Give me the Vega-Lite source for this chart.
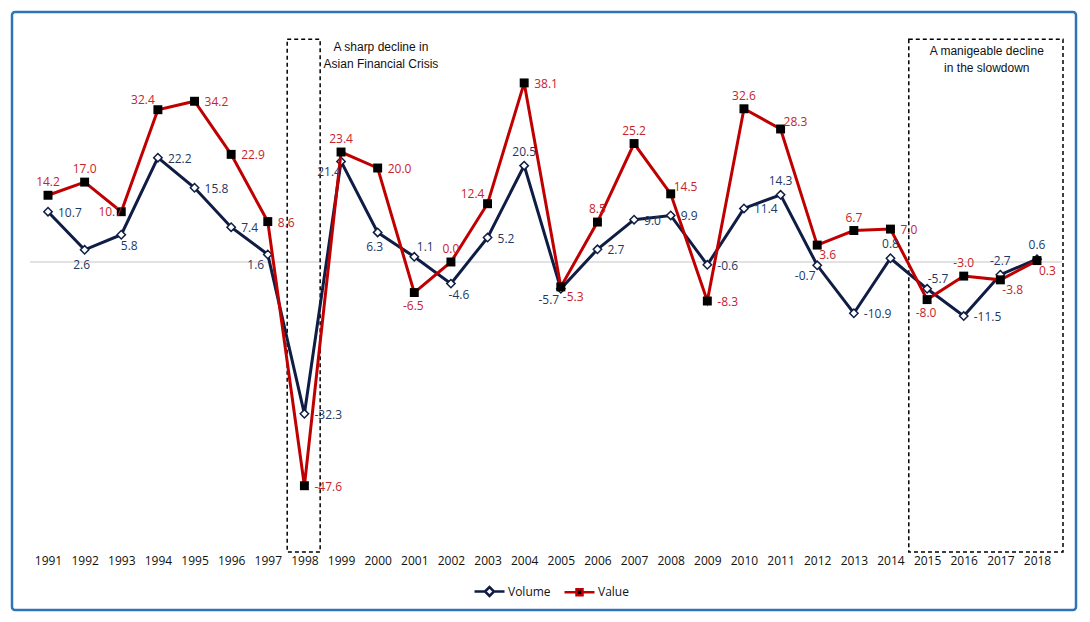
{
  "$schema": "https://vega.github.io/schema/vega-lite/v6.json",
  "width": 1064,
  "height": 598,
  "autosize": "none",
  "padding": {"left": 12, "top": 12, "right": 14, "bottom": 12},
  "background": "white",
  "config": {
    "view": {"stroke": "#2E75B6", "strokeWidth": 2.5, "cornerRadius": 3},
    "locale": {"number": {"decimal": ".", "thousands": ",", "grouping": [3], "currency": ["$", ""], "minus": "-"}}
  },
  "datasets": {
    "trade": [
      {"year": 1991, "series": "Volume", "pct": 10.7}, {"year": 1992, "series": "Volume", "pct": 2.6},
      {"year": 1993, "series": "Volume", "pct": 5.8}, {"year": 1994, "series": "Volume", "pct": 22.2},
      {"year": 1995, "series": "Volume", "pct": 15.8}, {"year": 1996, "series": "Volume", "pct": 7.4},
      {"year": 1997, "series": "Volume", "pct": 1.6}, {"year": 1998, "series": "Volume", "pct": -32.3},
      {"year": 1999, "series": "Volume", "pct": 21.4}, {"year": 2000, "series": "Volume", "pct": 6.3},
      {"year": 2001, "series": "Volume", "pct": 1.1}, {"year": 2002, "series": "Volume", "pct": -4.6},
      {"year": 2003, "series": "Volume", "pct": 5.2}, {"year": 2004, "series": "Volume", "pct": 20.5},
      {"year": 2005, "series": "Volume", "pct": -5.7}, {"year": 2006, "series": "Volume", "pct": 2.7},
      {"year": 2007, "series": "Volume", "pct": 9.0}, {"year": 2008, "series": "Volume", "pct": 9.9},
      {"year": 2009, "series": "Volume", "pct": -0.6}, {"year": 2010, "series": "Volume", "pct": 11.4},
      {"year": 2011, "series": "Volume", "pct": 14.3}, {"year": 2012, "series": "Volume", "pct": -0.7},
      {"year": 2013, "series": "Volume", "pct": -10.9}, {"year": 2014, "series": "Volume", "pct": 0.8},
      {"year": 2015, "series": "Volume", "pct": -5.7}, {"year": 2016, "series": "Volume", "pct": -11.5},
      {"year": 2017, "series": "Volume", "pct": -2.7}, {"year": 2018, "series": "Volume", "pct": 0.6},
      {"year": 1991, "series": "Value", "pct": 14.2}, {"year": 1992, "series": "Value", "pct": 17.0},
      {"year": 1993, "series": "Value", "pct": 10.7}, {"year": 1994, "series": "Value", "pct": 32.4},
      {"year": 1995, "series": "Value", "pct": 34.2}, {"year": 1996, "series": "Value", "pct": 22.9},
      {"year": 1997, "series": "Value", "pct": 8.6}, {"year": 1998, "series": "Value", "pct": -47.6},
      {"year": 1999, "series": "Value", "pct": 23.4}, {"year": 2000, "series": "Value", "pct": 20.0},
      {"year": 2001, "series": "Value", "pct": -6.5}, {"year": 2002, "series": "Value", "pct": 0.0},
      {"year": 2003, "series": "Value", "pct": 12.4}, {"year": 2004, "series": "Value", "pct": 38.1},
      {"year": 2005, "series": "Value", "pct": -5.3}, {"year": 2006, "series": "Value", "pct": 8.5},
      {"year": 2007, "series": "Value", "pct": 25.2}, {"year": 2008, "series": "Value", "pct": 14.5},
      {"year": 2009, "series": "Value", "pct": -8.3}, {"year": 2010, "series": "Value", "pct": 32.6},
      {"year": 2011, "series": "Value", "pct": 28.3}, {"year": 2012, "series": "Value", "pct": 3.6},
      {"year": 2013, "series": "Value", "pct": 6.7}, {"year": 2014, "series": "Value", "pct": 7.0},
      {"year": 2015, "series": "Value", "pct": -8.0}, {"year": 2016, "series": "Value", "pct": -3.0},
      {"year": 2017, "series": "Value", "pct": -3.8}, {"year": 2018, "series": "Value", "pct": 0.3}
    ],
    "boxes": [
      {"year": 1997.53, "year2": 1998.43, "pct": 47.4, "pct2": -61.7},
      {"year": 2014.5, "year2": 2018.71, "pct": 47.4, "pct2": -61.7}
    ],
    "notes": [
      {"note": ["A sharp decline in", "Asian Financial Crisis"], "year": 2000.09, "pct": 46.8},
      {"note": ["A manigeable decline", "in the slowdown"], "year": 2016.63, "pct": 46.0}
    ],
    "zero": [
      {"year": 1990.51, "year2": 2018.68, "pct": 0}
    ]
  },
  "encoding": {
    "x": {"field": "year", "type": "quantitative",
      "scale": {"domain": [1990.017, 2019.065], "nice": false, "zero": false},
      "axis": {"values": [1991,1992,1993,1994,1995,1996,1997,1998,1999,2000,2001,2002,2003,2004,2005,2006,2007,2008,2009,2010,2011,2012,2013,2014,2015,2016,2017,2018],
        "format": "d", "title": null, "domain": false, "ticks": false, "tickSize": 0, "grid": false,
        "offset": -57, "labelPadding": 2, "labelFont": "Open Sans", "labelFontSize": 12, "labelColor": "#111111", "labelFlush": false, "labelOverlap": false}},
    "y": {"field": "pct", "type": "quantitative",
      "scale": {"domain": [-74.04, 53.19], "nice": false, "zero": false}, "axis": null}
  },
  "layer": [
    {"data": {"name": "zero"}, "mark": {"type": "rule", "color": "#D9D9D9", "strokeWidth": 1.5},
      "encoding": {"x2": {"field": "year2"}}},
    {"data": {"name": "boxes"}, "mark": {"type": "rect", "fill": "transparent", "stroke": "#000000", "strokeWidth": 1.5, "strokeDash": [4, 3]},
      "encoding": {"x2": {"field": "year2"}, "y2": {"field": "pct2"}}},
    {"data": {"name": "notes"}, "mark": {"type": "text", "font": "Liberation Sans", "fontSize": 12, "lineHeight": 17, "baseline": "top", "align": "center", "color": "#111111"},
      "encoding": {"text": {"field": "note"}}},
    {"data": {"name": "trade"},
      "layer": [
        {"transform": [{"filter": {"field": "series", "equal": "Volume"}}], "mark": {"type": "line", "color": "#0F1D45", "strokeWidth": 3}, "encoding": {}},
        {"transform": [{"filter": {"field": "series", "equal": "Volume"}}], "mark": {"type": "point", "shape": "diamond", "filled": true, "fill": "white", "stroke": "#0F1D45", "strokeWidth": 1.5, "size": 70, "opacity": 1}},
        {"transform": [{"filter": {"field": "series", "equal": "Value"}}], "mark": {"type": "line", "color": "#C00000", "strokeWidth": 3}, "encoding": {}},
        {"transform": [{"filter": {"field": "series", "equal": "Value"}}], "mark": {"type": "point", "shape": "square", "filled": true, "fill": "black", "strokeWidth": 0, "size": 80, "opacity": 1}},

        {"transform": [{"filter": {"and": [{"field": "series", "equal": "Volume"}, {"field": "year", "oneOf": [1991,1994,1995,1996,1998,2003,2006,2007,2008,2009,2010,2013,2016]}]}}],
          "mark": {"type": "text", "align": "left", "baseline": "middle", "dx": 10, "dy": 1, "font": "Open Sans", "fontSize": 12, "color": "#1F3864"},
          "encoding": {"text": {"field": "pct", "type": "quantitative", "format": ".1f"}}},
        {"transform": [{"filter": {"and": [{"field": "series", "equal": "Volume"}, {"field": "year", "oneOf": [1992,2000]}]}}],
          "mark": {"type": "text", "align": "center", "baseline": "middle", "dx": -3, "dy": 15, "font": "Open Sans", "fontSize": 12, "color": "#1F3864"},
          "encoding": {"text": {"field": "pct", "type": "quantitative", "format": ".1f"}}},
        {"transform": [{"filter": {"and": [{"field": "series", "equal": "Volume"}, {"field": "year", "oneOf": [1993,2002]}]}}],
          "mark": {"type": "text", "align": "center", "baseline": "middle", "dx": 8, "dy": 11, "font": "Open Sans", "fontSize": 12, "color": "#1F3864"},
          "encoding": {"text": {"field": "pct", "type": "quantitative", "format": ".1f"}}},
        {"transform": [{"filter": {"and": [{"field": "series", "equal": "Volume"}, {"field": "year", "oneOf": [1997,1999,2005,2012]}]}}],
          "mark": {"type": "text", "align": "center", "baseline": "middle", "dx": -12, "dy": 11, "font": "Open Sans", "fontSize": 12, "color": "#1F3864"},
          "encoding": {"text": {"field": "pct", "type": "quantitative", "format": ".1f"}}},
        {"transform": [{"filter": {"and": [{"field": "series", "equal": "Volume"}, {"field": "year", "oneOf": [2004,2011,2014,2017,2018]}]}}],
          "mark": {"type": "text", "align": "center", "baseline": "middle", "dx": 0, "dy": -14, "font": "Open Sans", "fontSize": 12, "color": "#1F3864"},
          "encoding": {"text": {"field": "pct", "type": "quantitative", "format": ".1f"}}},
        {"transform": [{"filter": {"and": [{"field": "series", "equal": "Volume"}, {"field": "year", "oneOf": [2001,2015]}]}}],
          "mark": {"type": "text", "align": "center", "baseline": "middle", "dx": 11, "dy": -10, "font": "Open Sans", "fontSize": 12, "color": "#1F3864"},
          "encoding": {"text": {"field": "pct", "type": "quantitative", "format": ".1f"}}},

        {"transform": [{"filter": {"and": [{"field": "series", "equal": "Value"}, {"field": "year", "oneOf": [1995,1996,1997,1998,2000,2004,2009,2014]}]}}],
          "mark": {"type": "text", "align": "left", "baseline": "middle", "dx": 10, "dy": 1, "font": "Open Sans", "fontSize": 12, "color": "#C8232C"},
          "encoding": {"text": {"field": "pct", "type": "quantitative", "format": ".1f"}}},
        {"transform": [{"filter": {"and": [{"field": "series", "equal": "Value"}, {"field": "year", "oneOf": [1991,1992,1999,2002,2006,2007,2010,2013,2016]}]}}],
          "mark": {"type": "text", "align": "center", "baseline": "middle", "dx": 0, "dy": -13, "font": "Open Sans", "fontSize": 12, "color": "#C8232C"},
          "encoding": {"text": {"field": "pct", "type": "quantitative", "format": ".1f"}}},
        {"transform": [{"filter": {"and": [{"field": "series", "equal": "Value"}, {"field": "year", "oneOf": [1993]}]}}],
          "mark": {"type": "text", "align": "center", "baseline": "middle", "dx": -11, "dy": 0, "font": "Open Sans", "fontSize": 12, "color": "#C8232C"},
          "encoding": {"text": {"field": "pct", "type": "quantitative", "format": ".1f"}}},
        {"transform": [{"filter": {"and": [{"field": "series", "equal": "Value"}, {"field": "year", "oneOf": [1994,2003]}]}}],
          "mark": {"type": "text", "align": "center", "baseline": "middle", "dx": -15, "dy": -10, "font": "Open Sans", "fontSize": 12, "color": "#C8232C"},
          "encoding": {"text": {"field": "pct", "type": "quantitative", "format": ".1f"}}},
        {"transform": [{"filter": {"and": [{"field": "series", "equal": "Value"}, {"field": "year", "oneOf": [2001,2015]}]}}],
          "mark": {"type": "text", "align": "center", "baseline": "middle", "dx": -1, "dy": 13, "font": "Open Sans", "fontSize": 12, "color": "#C8232C"},
          "encoding": {"text": {"field": "pct", "type": "quantitative", "format": ".1f"}}},
        {"transform": [{"filter": {"and": [{"field": "series", "equal": "Value"}, {"field": "year", "oneOf": [2005,2012,2017,2018]}]}}],
          "mark": {"type": "text", "align": "left", "baseline": "middle", "dx": 2, "dy": 10, "font": "Open Sans", "fontSize": 12, "color": "#C8232C"},
          "encoding": {"text": {"field": "pct", "type": "quantitative", "format": ".1f"}}},
        {"transform": [{"filter": {"and": [{"field": "series", "equal": "Value"}, {"field": "year", "oneOf": [2008,2011]}]}}],
          "mark": {"type": "text", "align": "left", "baseline": "middle", "dx": 3, "dy": -7, "font": "Open Sans", "fontSize": 12, "color": "#C8232C"},
          "encoding": {"text": {"field": "pct", "type": "quantitative", "format": ".1f"}}},

        {"mark": {"type": "point", "size": 0, "strokeWidth": 2.5, "filled": false, "opacity": 1},
          "encoding": {
            "shape": {"field": "series", "type": "nominal",
              "scale": {"domain": ["Volume", "Value"], "range": ["M-1,0H-0.3M0.3,0H1M-0.3,0L0,-0.3L0.3,0L0,0.3Z", "M-1,0H-0.25M0.25,0H1M-0.2,-0.2H0.2V0.2H-0.2Z"]},
              "legend": {"orient": "none", "legendX": 461, "legendY": 563, "direction": "horizontal", "title": null, "symbolSize": 900, "symbolStrokeWidth": 2.5, "labelFont": "Open Sans", "labelFontSize": 12, "labelColor": "#111111", "columnPadding": 8, "labelOffset": 2}},
            "stroke": {"field": "series", "type": "nominal",
              "scale": {"domain": ["Volume", "Value"], "range": ["#0F1D45", "#C00000"]},
              "legend": {"orient": "none", "legendX": 461, "legendY": 563, "direction": "horizontal", "title": null, "symbolSize": 900, "symbolStrokeWidth": 2.5, "labelFont": "Open Sans", "labelFontSize": 12, "labelColor": "#111111", "columnPadding": 8, "labelOffset": 2}},
            "fill": {"field": "series", "type": "nominal",
              "scale": {"domain": ["Volume", "Value"], "range": ["#FFFFFF", "#000000"]},
              "legend": {"orient": "none", "legendX": 461, "legendY": 563, "direction": "horizontal", "title": null, "symbolSize": 900, "symbolStrokeWidth": 2.5, "labelFont": "Open Sans", "labelFontSize": 12, "labelColor": "#111111", "columnPadding": 8, "labelOffset": 2}}
          }}
      ]}
  ]
}
